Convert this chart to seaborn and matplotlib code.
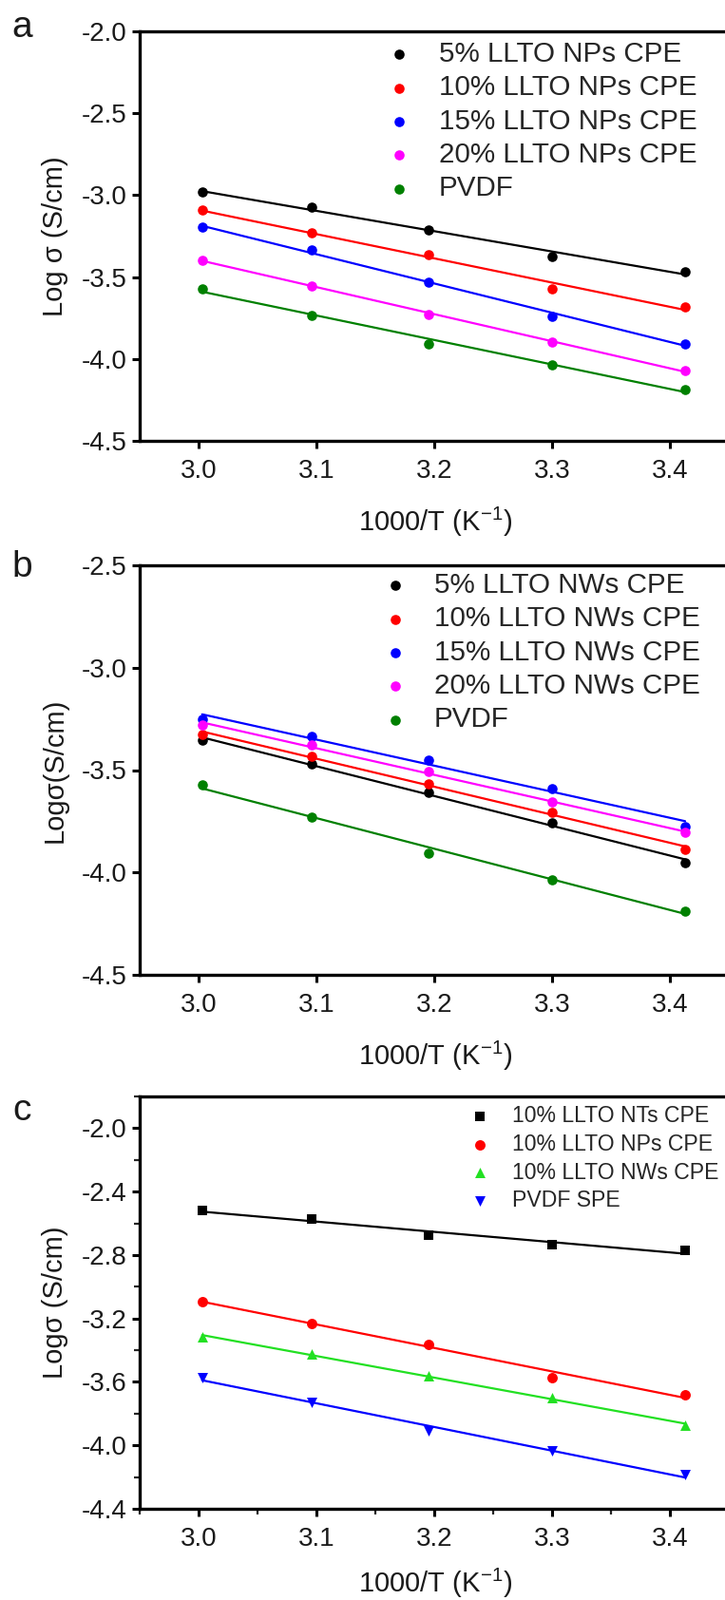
import matplotlib
matplotlib.use('Agg')
import matplotlib.pyplot as plt
import seaborn as sns
from matplotlib.ticker import MultipleLocator

# 1000/T values (K^-1), same for every series
inv_temp = [3.003, 3.096, 3.195, 3.300, 3.413]

# panel a: LLTO nanoparticles
np5 = [-2.981, -3.073, -3.214, -3.373, -3.467]
np10 = [-3.093, -3.230, -3.363, -3.573, -3.680]
np15 = [-3.197, -3.334, -3.529, -3.739, -3.909]
np20 = [-3.396, -3.552, -3.728, -3.898, -4.070]
pvdf = [-3.571, -3.732, -3.906, -4.035, -4.187]

# panel b: LLTO nanowires
nw5 = [-3.355, -3.470, -3.607, -3.757, -3.954]
nw10 = [-3.324, -3.432, -3.568, -3.705, -3.887]
nw15 = [-3.252, -3.336, -3.449, -3.590, -3.774]
nw20 = [-3.278, -3.379, -3.509, -3.655, -3.805]

# panel c: 10% fillers compared
nt10 = [-2.519, -2.574, -2.675, -2.734, -2.772]
nw10_c = [-3.315, -3.425, -3.561, -3.699, -3.874]

labels_a = ['5% LLTO NPs CPE', '10% LLTO NPs CPE', '15% LLTO NPs CPE', '20% LLTO NPs CPE', 'PVDF']
labels_b = ['5% LLTO NWs CPE', '10% LLTO NWs CPE', '15% LLTO NWs CPE', '20% LLTO NWs CPE', 'PVDF']
labels_c = ['10% LLTO NTs CPE', '10% LLTO NPs CPE', '10% LLTO NWs CPE', 'PVDF SPE']

colors_ab = ['#000000', '#ff0000', '#0000ff', '#ff00ff', '#008000']
colors_c = ['#000000', '#ff0000', '#22e022', '#0000ff']
markers_c = ['s', 'o', '^', 'v']

sns.set_theme(style='ticks')
plt.rcParams['font.family'] = ['Liberation Sans', 'DejaVu Sans']
plt.rcParams['mathtext.fontset'] = 'custom'
plt.rcParams['mathtext.rm'] = 'Liberation Sans'
plt.rcParams['mathtext.it'] = 'Liberation Sans:italic'

W, H = 763, 1684
fig = plt.figure(figsize=(W / 100, H / 100), dpi=100)

left_px, right_px = 147, 770


def make_ax(top_px, bottom_px):
    return fig.add_axes([left_px / W, 1 - bottom_px / H,
                         (right_px - left_px) / W, (bottom_px - top_px) / H])


def style_ax(ax, top_px, bottom_px, ylabel, ylim, ystep, minor=False, xlab_off=68):
    ax.set_xlim(2.95, 3.4525)
    ax.set_ylim(*ylim)
    ax.xaxis.set_major_locator(MultipleLocator(0.1))
    ax.yaxis.set_major_locator(MultipleLocator(ystep))
    ax.yaxis.set_major_formatter(plt.FormatStrFormatter('%.1f'))
    if minor:
        ax.xaxis.set_minor_locator(MultipleLocator(0.05))
        ax.yaxis.set_minor_locator(MultipleLocator(ystep / 2))
        ax.tick_params(which='minor', direction='out', length=4.5, width=1.6)
    ax.tick_params(which='major', direction='out', length=6, width=2.2,
                   labelsize=20, color='black', labelcolor='#1a1a1a')
    ax.tick_params(axis='y', pad=3.5)
    ax.tick_params(axis='x', pad=8)
    for sp in ax.spines.values():
        sp.set_linewidth(2.4)
        sp.set_color('black')
        sp.set_visible(True)
    ax.set_xlabel(r'1000/T (K$^{\mathrm{-1}}$)', fontsize=21, color='#1a1a1a')
    ax.set_ylabel(ylabel, fontsize=21, color='#1a1a1a')
    h = bottom_px - top_px
    ax.xaxis.set_label_coords(0.5, -xlab_off / h)
    ax.yaxis.set_label_coords((72 - left_px) / (right_px - left_px), 0.5)


def draw(ax, series, labels, colors, markers, size):
    for y, lab, c, m in zip(series, labels, colors, markers):
        sns.regplot(x=inv_temp, y=y, ax=ax, ci=None, color=c, marker=m, label=lab,
                    scatter_kws={'s': size, 'linewidths': 0, 'alpha': 1, 'zorder': 3},
                    line_kws={'lw': 1.6, 'zorder': 2})


# panel a
top_a, bot_a = 33, 464
ax_a = make_ax(top_a, bot_a)
draw(ax_a, [np5, np10, np15, np20, pvdf], labels_a, colors_ab, ['o'] * 5, 58)
style_ax(ax_a, top_a, bot_a, 'Log σ (S/cm)', (-4.5, -2.0), 0.5)
ax_a.legend(loc='upper left', bbox_to_anchor=(0.42, 0.977), frameon=False, fontsize=21.3,
            handlelength=0.8, handletextpad=1.0, labelspacing=0.25, borderpad=0,
            borderaxespad=0, scatterpoints=1)

# panel b
top_b, bot_b = 595, 1026
ax_b = make_ax(top_b, bot_b)
draw(ax_b, [nw5, nw10, nw15, nw20, pvdf], labels_b, colors_ab, ['o'] * 5, 58)
style_ax(ax_b, top_b, bot_b, 'Logσ(S/cm)', (-4.5, -2.5), 0.5)
ax_b.legend(loc='upper left', bbox_to_anchor=(0.412, 0.984), frameon=False, fontsize=21.3,
            handlelength=0.8, handletextpad=1.0, labelspacing=0.25, borderpad=0,
            borderaxespad=0, scatterpoints=1)

# panel c
top_c, bot_c = 1154, 1588
ax_c = make_ax(top_c, bot_c)
draw(ax_c, [nt10, np10, nw10_c, pvdf], labels_c, colors_c, markers_c, 62)
style_ax(ax_c, top_c, bot_c, 'Logσ (S/cm)', (-4.4, -1.8), 0.4, minor=True, xlab_off=61)
ax_c.legend(loc='upper left', bbox_to_anchor=(0.56, 0.980), frameon=False, fontsize=16.6,
            handlelength=0.8, handletextpad=1.05, labelspacing=0.3, borderpad=0,
            borderaxespad=0, scatterpoints=1)

# panel letters
for letter, y in [('a', 29), ('b', 597), ('c', 1169)]:
    fig.text(23 / W, 1 - y / H, letter, fontsize=28, ha='center', va='center', color='#1a1a1a')

fig.savefig('out.png', dpi=100, facecolor='white')
